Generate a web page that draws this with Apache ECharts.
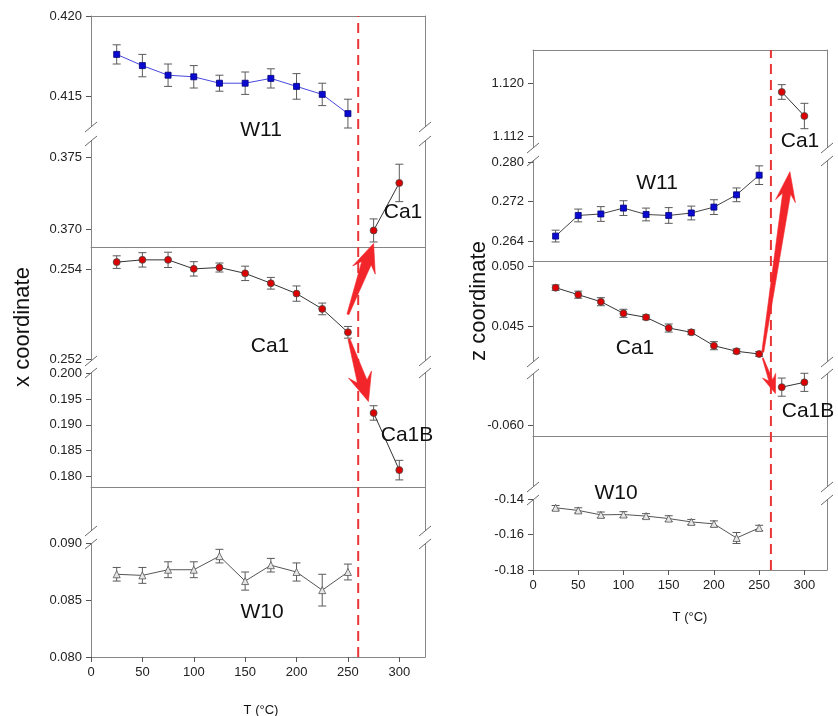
<!DOCTYPE html>
<html>
<head>
<meta charset="utf-8">
<script src="https://cdn.jsdelivr.net/npm/echarts@6/dist/echarts.min.js"></script>
<style>
html, body { margin: 0; padding: 0; background: #fff; }
#chart { width: 838px; height: 716px; }
</style>
</head>
<body>
<div id="chart"></div>
<script>
// ---- temperatures (°C) ----
const tempsLow = [25, 50, 75, 100, 125, 150, 175, 200, 225, 250];
const tempsHigh = [275, 300];
const xTicks = [0, 50, 100, 150, 200, 250, 300];
const transitionT = [260, 263];

// ---- x coordinate ----
const xW11 = [0.4176, 0.4169, 0.4163, 0.4162, 0.4158, 0.4158, 0.4161, 0.4156, 0.4151, 0.4139];
const xW11Err = [0.0006, 0.0007, 0.0007, 0.0007, 0.0005, 0.0007, 0.0006, 0.0008, 0.0007, 0.0009];
const xCa1High = [0.3699, 0.3732];
const xCa1HighErr = [0.0008, 0.0013];
const xCa1 = [0.25416, 0.25421, 0.25421, 0.25401, 0.25404, 0.25391, 0.25369, 0.25346, 0.25312, 0.25260];
const xCa1Err = [0.00014, 0.00016, 0.00017, 0.00016, 0.00010, 0.00016, 0.00013, 0.00017, 0.00013, 0.00013];
const xCa1B = [0.1923, 0.1812];
const xCa1BErr = [0.0014, 0.0019];
const xW10 = [0.0873, 0.0872, 0.0877, 0.0877, 0.0889, 0.0867, 0.0881, 0.0875, 0.0859, 0.0875];
const xW10Err = [0.0006, 0.0007, 0.0007, 0.0007, 0.0006, 0.0008, 0.0006, 0.0008, 0.0014, 0.0007];

// ---- z coordinate ----
const zCa1High = [1.1187, 1.1151];
const zCa1HighErr = [0.0011, 0.0019];
const zW11 = [0.2650, 0.2692, 0.2695, 0.2707, 0.2694, 0.2692, 0.2697, 0.2709, 0.2734, 0.2774];
const zW11Err = [0.0012, 0.0013, 0.0015, 0.0015, 0.0013, 0.0016, 0.0014, 0.0015, 0.0014, 0.0019];
const zCa1 = [0.04823, 0.04764, 0.04705, 0.04607, 0.04573, 0.04483, 0.04447, 0.04334, 0.04287, 0.04264];
const zCa1Err = [0.00023, 0.0003, 0.00034, 0.00034, 0.0002, 0.00034, 0.0002, 0.00034, 0.0002, 0.0002];
const zCa1B = [-0.0529, -0.0520];
const zCa1BErr = [0.0017, 0.0017];
const zW10 = [-0.1448, -0.1463, -0.1488, -0.1486, -0.1495, -0.1509, -0.1528, -0.1539, -0.1619, -0.1562];
const zW10Err = [0.0013, 0.0015, 0.0016, 0.0016, 0.0014, 0.0016, 0.0014, 0.0017, 0.0031, 0.0015];

// ---- tick labels of each axis segment ----
const xTicksW11 = [0.415, 0.420];
const xTicksCa1High = [0.370, 0.375];
const xTicksCa1 = [0.252, 0.254];
const xTicksCa1B = [0.180, 0.185, 0.190, 0.195, 0.200];
const xTicksW10 = [0.080, 0.085, 0.090];
const zTicksCa1High = [1.112, 1.120];
const zTicksW11 = [0.264, 0.272, 0.280];
const zTicksCa1 = [0.045, 0.050];
const zTicksCa1B = [-0.060];
const zTicksW10 = [-0.18, -0.16, -0.14];

// ---- styling ----
const FONT = '"Liberation Sans", Arial, sans-serif';
const FRAME = '#858585';
const TICK = '#555';
const TXT = '#222';
const RED = '#f2262a';

// panel segments (pixel layout)
const L = { left: 91, width: 334 };
const R = { left: 533, width: 294 };
const grids = [
  { ...L, top: 16, height: 111 },   // 0  W11 (x)
  { ...L, top: 140, height: 107 },  // 1  Ca1 above transition (x)
  { ...L, top: 247, height: 114 },  // 2  Ca1 (x)
  { ...L, top: 372, height: 115 },  // 3  Ca1B (x)
  { ...L, top: 487, height: 44 },   // 4  empty segment
  { ...L, top: 543, height: 114 },  // 5  W10 (x)
  { ...R, top: 50, height: 98 },    // 6  Ca1 above transition (z)
  { ...R, top: 160, height: 101 },  // 7  W11 (z)
  { ...R, top: 261, height: 101 },  // 8  Ca1 (z)
  { ...R, top: 373, height: 63 },   // 9  Ca1B (z)
  { ...R, top: 436, height: 51 },   // 10 empty segment
  { ...R, top: 499, height: 71 },   // 11 W10 (z)
  { ...L, top: 16, height: 641 },   // 12 full left panel (transition line)
  { ...R, top: 50, height: 520 }    // 13 full right panel (transition line)
];

// value range of each segment
const yRange = [
  [0.413063, 0.420, xTicksW11, 3],
  [0.368750, 0.376181, xTicksCa1High, 3],
  [0.251962, 0.254496, xTicksCa1, 3],
  [0.177922, 0.200252, xTicksCa1B, 3],
  [0, 1, [], 3],
  [0.080, 0.090059, xTicksW10, 3],
  [1.110307, 1.124989, zTicksCa1High, 3],
  [0.259929, 0.280489, zTicksW11, 3],
  [0.041965, 0.050481, zTicksCa1, 3],
  [-0.062063, -0.05025, zTicksCa1B, 3],
  [0, 1, [], 3],
  [-0.18, -0.139830, zTicksW10, 2]
];

// how the x axis of each segment is drawn
const xMode = ['top', 'line', 'none', 'line', 'none', 'full',
               'top', 'line', 'none', 'line', 'none', 'full'];

function xAxisFor(i, mode) {
  const base = { gridIndex: i, type: 'value', min: 0, max: 325, splitLine: { show: false } };
  if (mode === 'none') return { ...base, show: false };
  const line = { show: true, onZero: false, lineStyle: { color: FRAME, width: 1 } };
  if (mode === 'top' || mode === 'line') {
    return { ...base, position: mode === 'top' ? 'top' : 'bottom', axisLine: line,
             axisTick: { show: false }, axisLabel: { show: false } };
  }
  return { ...base, position: 'bottom', axisLine: line,
           axisTick: { show: true, length: 5, lineStyle: { color: TICK }, customValues: xTicks },
           axisLabel: { show: true, customValues: xTicks, fontSize: 13, color: TXT,
                        fontFamily: FONT, margin: 9 } };
}

function yAxisFor(i, r) {
  const [min, max, ticks, dec] = r;
  const has = ticks.length > 0;
  return {
    gridIndex: i, type: 'value', position: 'left', min, max,
    splitLine: { show: false },
    axisLine: { show: true, onZero: false, lineStyle: { color: FRAME, width: 1 } },
    axisTick: { show: has, length: 5, lineStyle: { color: TICK }, customValues: has ? ticks : undefined },
    axisLabel: { show: has, customValues: has ? ticks : undefined, formatter: v => v.toFixed(dec),
                 fontSize: 13, color: TXT, fontFamily: FONT, margin: 9 }
  };
}

const xAxes = [];
const yAxes = [];
for (let i = 0; i < 12; i++) {
  xAxes.push(xAxisFor(i, xMode[i]));
  yAxes.push(yAxisFor(i, yRange[i]));
}
// right-hand frame of every segment
for (let i = 0; i < 12; i++) {
  yAxes.push({ gridIndex: i, type: 'value', position: 'right', min: 0, max: 1,
    splitLine: { show: false },
    axisLine: { show: true, onZero: false, lineStyle: { color: FRAME, width: 1 } },
    axisTick: { show: false }, axisLabel: { show: false } });
}
// full-panel axes for the transition line
xAxes.push({ gridIndex: 12, type: 'value', min: 0, max: 325, show: false });
xAxes.push({ gridIndex: 13, type: 'value', min: 0, max: 325, show: false });
yAxes.push({ gridIndex: 12, type: 'value', min: 0, max: 1, show: false });
yAxes.push({ gridIndex: 13, type: 'value', min: 0, max: 1, show: false });

// error bar with caps
function errorBar(params, api) {
  const t = api.value(0), v = api.value(1), e = api.value(2);
  const lo = api.coord([t, v - e]);
  const hi = api.coord([t, v + e]);
  const cap = 4;
  const style = { stroke: '#5a5a5a', lineWidth: 1, fill: null };
  return {
    type: 'group',
    children: [
      { type: 'line', shape: { x1: lo[0], y1: lo[1], x2: hi[0], y2: hi[1] }, style },
      { type: 'line', shape: { x1: lo[0] - cap, y1: lo[1], x2: lo[0] + cap, y2: lo[1] }, style },
      { type: 'line', shape: { x1: hi[0] - cap, y1: hi[1], x2: hi[0] + cap, y2: hi[1] }, style }
    ]
  };
}

const STYLE_W11_X = { symbol: 'rect', size: 6, fill: '#0a0ad2', border: '#00007a', line: '#4848e0' };
const STYLE_W11_Z = { symbol: 'rect', size: 6, fill: '#0a0ad2', border: '#00007a', line: '#444' };
const STYLE_CA = { symbol: 'circle', size: 7, fill: '#dc0000', border: '#4a4a4a', line: '#333' };
const STYLE_W10 = { symbol: 'triangle', size: 7, fill: '#e6e6e6', border: '#555', line: '#555' };

const series = [];
function addSet(g, temps, vals, errs, st) {
  series.push({
    type: 'custom', xAxisIndex: g, yAxisIndex: g, z: 2, silent: true,
    data: temps.map((t, i) => [t, vals[i], errs[i]]),
    renderItem: errorBar
  });
  series.push({
    type: 'line', xAxisIndex: g, yAxisIndex: g, z: 3, silent: true,
    data: temps.map((t, i) => [t, vals[i]]),
    symbol: st.symbol, symbolSize: st.size, showSymbol: true, clip: false,
    itemStyle: { color: st.fill, borderColor: st.border, borderWidth: 0.8 },
    lineStyle: { color: st.line, width: 1 }
  });
}

addSet(0, tempsLow, xW11, xW11Err, STYLE_W11_X);
addSet(1, tempsHigh, xCa1High, xCa1HighErr, STYLE_CA);
addSet(2, tempsLow, xCa1, xCa1Err, STYLE_CA);
addSet(3, tempsHigh, xCa1B, xCa1BErr, STYLE_CA);
addSet(5, tempsLow, xW10, xW10Err, STYLE_W10);
addSet(6, tempsHigh, zCa1High, zCa1HighErr, STYLE_CA);
addSet(7, tempsLow, zW11, zW11Err, STYLE_W11_Z);
addSet(8, tempsLow, zCa1, zCa1Err, STYLE_CA);
addSet(9, tempsHigh, zCa1B, zCa1BErr, STYLE_CA);
addSet(11, tempsLow, zW10, zW10Err, STYLE_W10);

// transition temperature lines
[0, 1].forEach(p => {
  series.push({
    type: 'line', xAxisIndex: 12 + p, yAxisIndex: 24 + p, z: 1, silent: true,
    data: [[transitionT[p], 0], [transitionT[p], 1]],
    symbol: 'none',
    lineStyle: { color: '#ea3535', width: 2, type: [10, 6] }
  });
});

const chart = echarts.init(document.getElementById('chart'));
chart.setOption({
  animation: false,
  backgroundColor: '#fff',
  grid: grids.map(g => ({ ...g, containLabel: false })),
  xAxis: xAxes,
  yAxis: yAxes,
  series
});

// ---- annotations ----
const graphics = [];

// axis break marks on both spines
const breaks = [
  [0, 1], [2, 3], [4, 5],
  [6, 7], [8, 9], [10, 11]
];
function slash(x, y) {
  graphics.push({ type: 'line', z: 50, silent: true,
    shape: { x1: x - 6, y1: y + 5, x2: x + 6, y2: y - 5 },
    style: { stroke: '#6a6a6a', lineWidth: 1 } });
}
breaks.forEach(([a, b]) => {
  const ga = grids[a], gb = grids[b];
  const yTop = ga.top + ga.height, yBot = gb.top;
  [ga.left, ga.left + ga.width].forEach(x => {
    graphics.push({ type: 'rect', z: 49, silent: true,
      shape: { x: x - 2, y: yTop, width: 4, height: yBot - yTop },
      style: { fill: '#fff' } });
    slash(x, yTop);
    slash(x, yBot + 1);
  });
});

// arrows from Ca1 at 250 °C to the split phases
function arrowShape(tail, tip, headLen, headHalf, w0, w1) {
  const dx = tip[0] - tail[0], dy = tip[1] - tail[1];
  const len = Math.hypot(dx, dy);
  const ux = dx / len, uy = dy / len;
  const nx = -uy, ny = ux;
  const bx = tip[0] - ux * headLen, by = tip[1] - uy * headLen;
  const back = headLen * 0.35;
  return [
    [tail[0] + nx * w0 / 2, tail[1] + ny * w0 / 2],
    [bx + nx * w1 / 2, by + ny * w1 / 2],
    [bx - ux * back + nx * headHalf, by - uy * back + ny * headHalf],
    [tip[0], tip[1]],
    [bx - ux * back - nx * headHalf, by - uy * back - ny * headHalf],
    [bx - nx * w1 / 2, by - ny * w1 / 2],
    [tail[0] - nx * w0 / 2, tail[1] - ny * w0 / 2]
  ];
}
const px = (g, pt) => chart.convertToPixel({ gridIndex: g }, pt);
const arrows = [
  [px(2, [250, 0.2530]), px(1, [275, 0.3690]), 21, 12, 2, 10],
  [px(2, [251, 0.25245]), px(3, [270, 0.1945]), 21, 12, 2, 10],
  [px(8, [254, 0.0428]), px(7, [284, 0.2781]), 22, 10, 2, 8],
  [px(8, [254, 0.0423]), px(9, [268, -0.0541]), 14, 7, 1, 4]
];
arrows.forEach(a => {
  graphics.push({ type: 'polygon', z: 60, silent: true,
    shape: { points: arrowShape(a[0], a[1], a[2], a[3], a[4], a[5]) },
    style: { fill: RED, stroke: RED, lineWidth: 0.6, lineJoin: 'round' } });
});

// site labels
function label(x, y, text, size, rot) {
  graphics.push({ type: 'text', z: 70, silent: true, x, y, rotation: rot || 0,
    style: { text, font: size + 'px ' + FONT, fill: '#111',
             align: 'center', verticalAlign: 'middle',
             textAlign: 'center', textVerticalAlign: 'middle' } });
}
label(261, 130, 'W11', 21);
label(403, 212, 'Ca1', 21);
label(270, 346, 'Ca1', 21);
label(407, 435, 'Ca1B', 21);
label(262, 612, 'W10', 21);
label(800, 141, 'Ca1', 21);
label(657, 183, 'W11', 21);
label(635, 348, 'Ca1', 21);
label(808, 411, 'Ca1B', 21);
label(616, 493, 'W10', 21);

// axis titles
label(23, 327, 'x coordinate', 22, Math.PI / 2);
label(479, 301, 'z coordinate', 22, Math.PI / 2);
label(261, 710, 'T (°C)', 13);
label(690, 617, 'T (°C)', 13);

chart.setOption({ graphic: graphics });
</script>
</body>
</html>
